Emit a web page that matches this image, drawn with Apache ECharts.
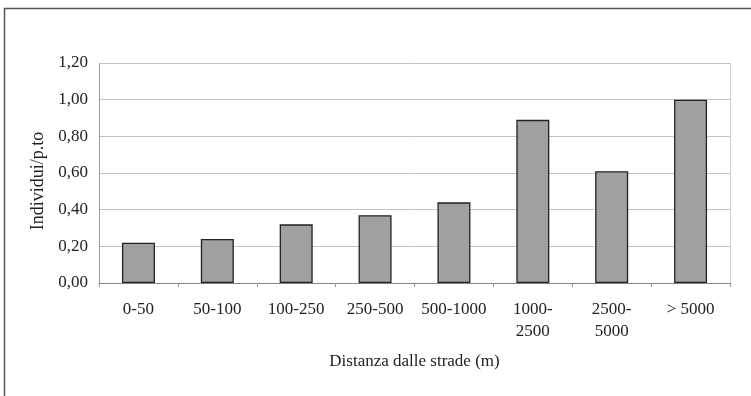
<!DOCTYPE html>
<html>
<head>
<meta charset="utf-8">
<script src="https://cdn.jsdelivr.net/npm/echarts@6/dist/echarts.min.js"></script>
<style>
html, body { margin: 0; padding: 0; background: #fff; }
#main { width: 751px; height: 396px; }
</style>
</head>
<body>
<div id="main"></div>
<script>
var categories = ['0-50', '50-100', '100-250', '250-500', '500-1000', '1000-\n2500', '2500-\n5000', '> 5000'];
var values = [0.22, 0.24, 0.32, 0.37, 0.44, 0.89, 0.61, 1.00];
var yTicks = [0, 0.2, 0.4, 0.6, 0.8, 1.0, 1.2];

var myChart = echarts.init(document.getElementById('main'), null, { renderer: 'canvas' });
var font = 'Liberation Serif';

var option = {
    backgroundColor: '#fff',
    animation: false,
    textStyle: { fontFamily: font },
    graphic: [
        {
            type: 'rect',
            shape: { x: 4.5, y: 8.5, width: 800, height: 420 },
            style: { fill: 'none', stroke: '#555', lineWidth: 1.5 }
        },
        {
            // bordo destro dell'area del grafico
            type: 'line',
            shape: { x1: 730.5, y1: 63, x2: 730.5, y2: 283 },
            style: { stroke: '#ccc', lineWidth: 1 }
        }
    ],
    grid: { left: 99, right: 21, top: 63, bottom: 113 },
    xAxis: {
        type: 'category',
        data: categories,
        name: 'Distanza dalle strade (m)',
        nameLocation: 'middle',
        nameGap: 70,
        nameTextStyle: { color: '#222', fontSize: 17, fontFamily: font },
        axisLine: { lineStyle: { color: '#777', type: 'dotted', width: 1 } },
        axisTick: { show: true, length: 4, lineStyle: { color: '#999' } },
        axisLabel: { color: '#222', fontSize: 17, fontFamily: font, margin: 16, lineHeight: 22, interval: 0 }
    },
    yAxis: {
        type: 'value',
        min: yTicks[0],
        max: yTicks[yTicks.length - 1],
        interval: 0.2,
        name: 'Individui/p.to',
        nameLocation: 'middle',
        nameGap: 47,
        nameTextStyle: { color: '#222', fontSize: 18, fontFamily: font, padding: [0, 16, 0, 0] },
        axisLine: { show: true, lineStyle: { color: '#888', type: 'dotted', width: 1 } },
        axisTick: { show: false },
        axisLabel: {
            color: '#222', fontSize: 17, fontFamily: font, margin: 11,
            formatter: function (v) { return v.toFixed(2).replace('.', ','); }
        },
        splitLine: { lineStyle: { color: '#c4c4c4', width: 1 } }
    },
    series: [
        {
            type: 'bar',
            data: values,
            barWidth: 33,
            itemStyle: { color: '#a0a0a0', borderColor: '#222', borderWidth: 1.3 }
        }
    ]
};
myChart.setOption(option);
window.addEventListener('resize', myChart.resize);
</script>
</body>
</html>
